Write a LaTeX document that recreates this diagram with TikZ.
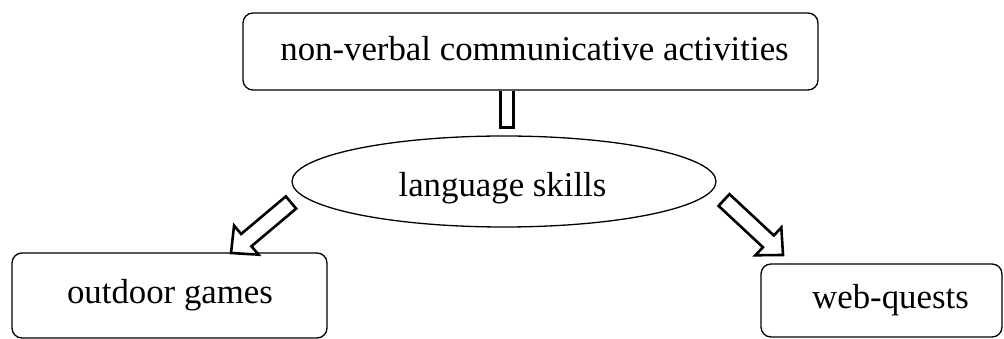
\documentclass[tikz,border=0pt]{standalone}
\usepackage{fontspec}
\setmainfont{Liberation Serif}
\usetikzlibrary{calc,shapes.geometric}
\tikzset{
  box/.style={draw, line width=1.3pt, rounded corners=10pt, inner sep=0pt},
  oval/.style={ellipse, draw, line width=1.3pt, inner sep=0pt},
  block/.style={draw, line width=2.6pt, fill=white, line join=miter},
  txt/.style={inner sep=0pt, anchor=base, font=\fontsize{34.8}{38}\selectfont}
}
\newcommand{\hollowarrow}[2]{%
  \draw[block] ($(#1)!8pt!-90:(#2)$) -- ($($(#2)!20pt!(#1)$)!8pt!-90:(#2)$) -- ($($(#2)!20pt!(#1)$)!19pt!-90:(#2)$) -- (#2) -- ($($(#2)!20pt!(#1)$)!19pt!90:(#2)$) -- ($($(#2)!20pt!(#1)$)!8pt!90:(#2)$) -- ($(#1)!8pt!90:(#2)$) -- cycle;}
\begin{document}
\begin{tikzpicture}[x=1pt,y=-1pt]
\useasboundingbox (0,0) rectangle (1004,339);
% top box
\node[box, minimum width=575pt, minimum height=77pt] (top) at (530.5,51.5) {};
\node[txt] (toptxt) at (534.5,61) {non-verbal communicative activities};
% ellipse
\node[oval, minimum width=424pt, minimum height=91pt] (lang) at (504,181.5) {};
\node[txt] (langtxt) at (502.5,197) {language skills};
% bottom boxes
\node[box, minimum width=315pt, minimum height=85pt] (out) at (169.5,295.5) {};
\node[txt] (outtxt) at (170,303) {outdoor games};
\node[box, minimum width=241pt, minimum height=73pt] (web) at (881.5,300.5) {};
\node[txt] (webtxt) at (890.5,308) {web-quests};
% stem
\coordinate (s1) at ($(top.south)+(-30,0)$);
\coordinate (s2) at ($(top.south)+(-17,0)$);
\draw[line width=2.6pt, line join=miter] (s1) -- ++(0,37) -| (s2);
% arrows
\coordinate (la) at (291,202.5);
\coordinate (lb) at (231,253);
\coordinate (ra) at (724,200);
\coordinate (rb) at (783,255);
\hollowarrow{la}{lb}
\hollowarrow{ra}{rb}
\end{tikzpicture}
\end{document}
